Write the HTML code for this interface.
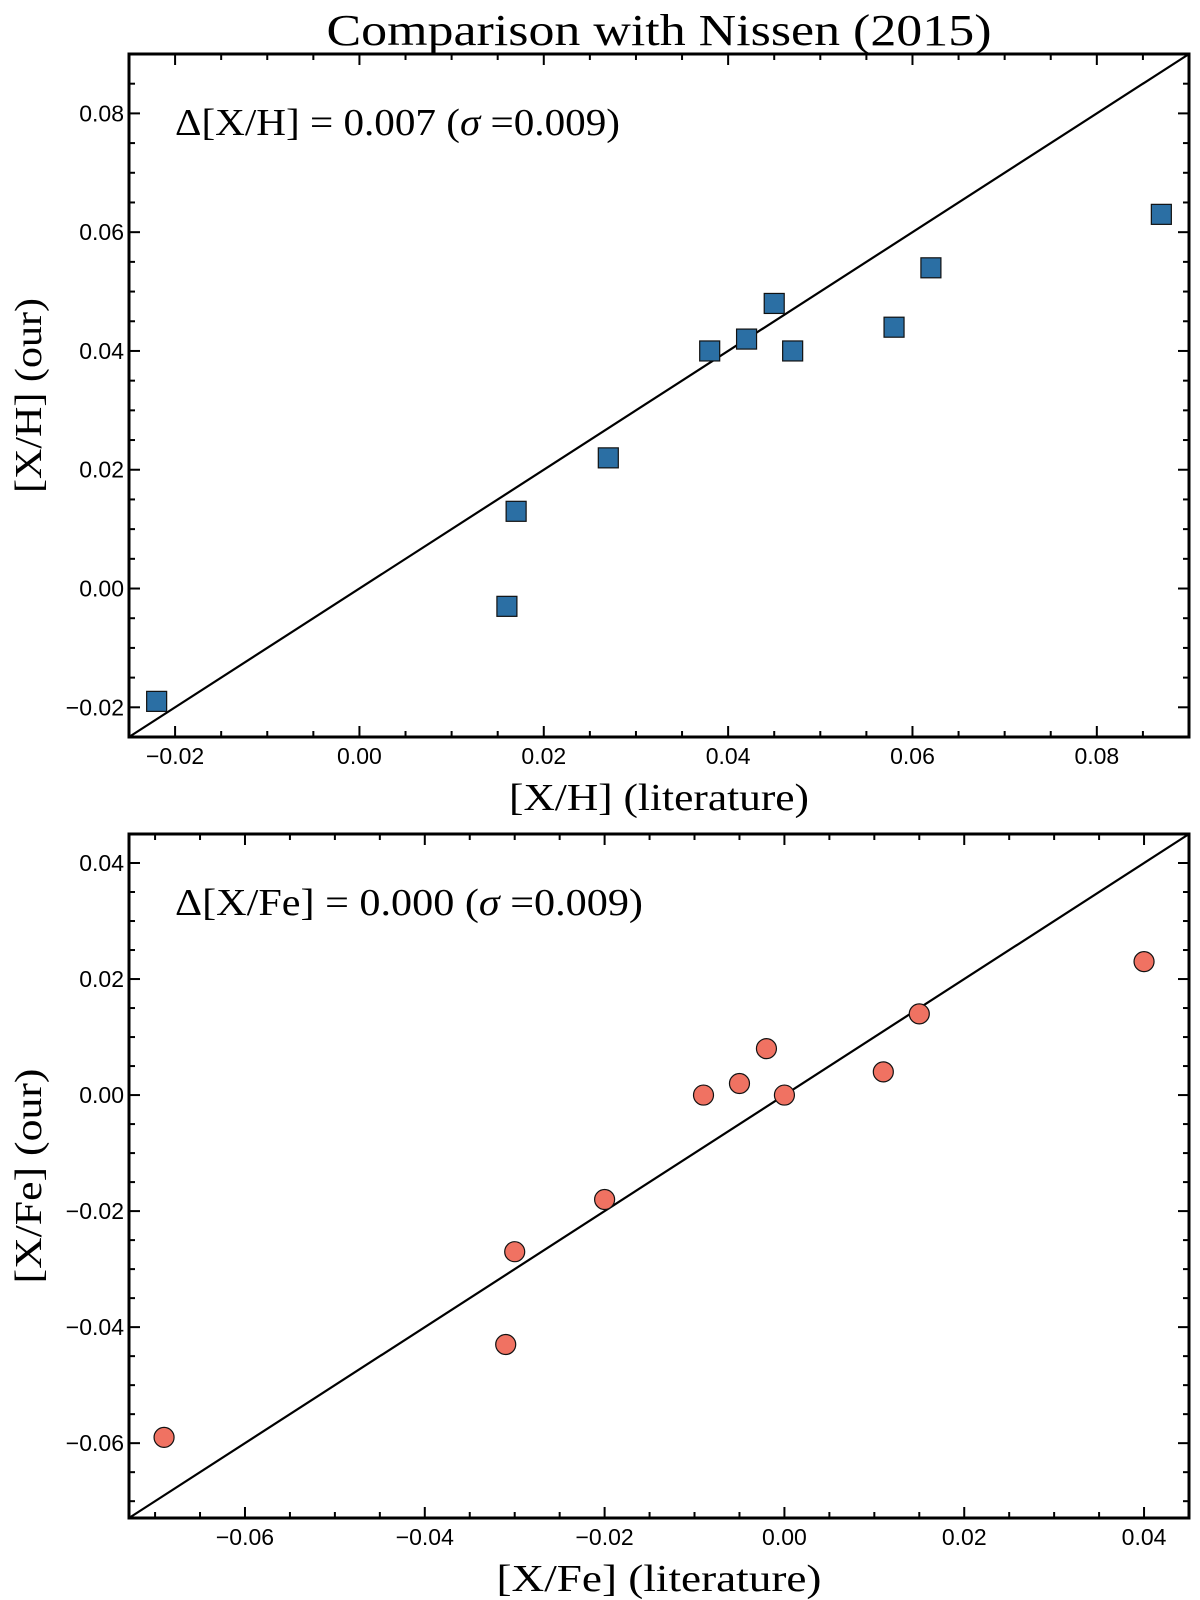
<!DOCTYPE html>
<html><head><meta charset="utf-8"><style>
html,body{margin:0;padding:0;background:#fff;}
svg{display:block;}
.tick{font-family:"Liberation Sans","DejaVu Sans",sans-serif;font-size:23px;fill:#000;}
.ser{font-family:"Liberation Serif","DejaVu Serif",serif;fill:#000;}
</style></head><body>
<svg id="fig" width="1200" height="1600" viewBox="0 0 1200 1600" xmlns="http://www.w3.org/2000/svg">
<rect width="1200" height="1600" fill="#fff"/>
<text class="ser" x="659" y="45" font-size="44" text-anchor="middle" textLength="665" lengthAdjust="spacingAndGlyphs">Comparison with Nissen (2015)</text>
</svg>
<script>
// Top panel data
const xhLit = [-0.022, 0.016, 0.017, 0.027, 0.038, 0.042, 0.045, 0.047, 0.058, 0.062, 0.087];
const xhOur = [-0.019, -0.003, 0.013, 0.022, 0.040, 0.042, 0.048, 0.040, 0.044, 0.054, 0.063];
const xhTicks = [-0.02, 0.00, 0.02, 0.04, 0.06, 0.08];
const xhTickLabels = ["\u22120.02", "0.00", "0.02", "0.04", "0.06", "0.08"];
// Bottom panel data
const xfeLit = [-0.069, -0.031, -0.030, -0.020, -0.009, -0.005, -0.002, 0.000, 0.011, 0.015, 0.040];
const xfeOur = [-0.059, -0.043, -0.027, -0.018, 0.000, 0.002, 0.008, 0.000, 0.004, 0.014, 0.023];
const xfeXTicks = [-0.06, -0.04, -0.02, 0.00, 0.02, 0.04];
const xfeXTickLabels = ["\u22120.06", "\u22120.04", "\u22120.02", "0.00", "0.02", "0.04"];
const xfeYTicks = [-0.06, -0.04, -0.02, 0.00, 0.02, 0.04];
const xfeYTickLabels = ["\u22120.06", "\u22120.04", "\u22120.02", "0.00", "0.02", "0.04"];

const NS = "http://www.w3.org/2000/svg";
const svg = document.getElementById('fig');
function mk(tag, attrs, parent) {
  const e = document.createElementNS(NS, tag);
  for (const k in attrs) e.setAttribute(k, attrs[k]);
  (parent || svg).appendChild(e);
  return e;
}

function panel(cfg) {
  const g = mk('g', {});
  
  
  const L = 129, R = 1189, T = cfg.top, B = cfg.bottom;
  const sx = v => L + (v - cfg.xmin) / (cfg.xmax - cfg.xmin) * (R - L);
  const sy = v => B - (v - cfg.ymin) / (cfg.ymax - cfg.ymin) * (B - T);
  const ln = mk('line', {x1: sx(cfg.xmin), y1: sy(cfg.xmin), x2: sx(cfg.xmax), y2: sy(cfg.xmax), stroke: '#000', 'stroke-width': 2.2}, g);
  
  
  for (let i = 0; i < cfg.xs.length; i++) {
    const cx = sx(cfg.xs[i]), cy = sy(cfg.ys[i]);
    let m;
    if (cfg.marker === 'square') {
      m = mk('rect', {x: cx - 10, y: cy - 10, width: 20, height: 20, fill: '#2b6fa4', stroke: '#111', 'stroke-width': 1.2}, g);
    } else {
      m = mk('circle', {cx: cx, cy: cy, r: 10, fill: '#f07262', stroke: '#111', 'stroke-width': 1.2}, g);
    }
    
    
  }
  const step = 0.005;
  for (let v = Math.ceil(cfg.xmin / step) * step; v <= cfg.xmax + 1e-9; v += step) {
    const x = sx(v);
    const major = Math.abs(Math.round(v / 0.02) * 0.02 - v) < 1e-9;
    const len = major ? 11 : 6;
    mk('line', {x1: x, y1: B, x2: x, y2: B - len, stroke: '#000', 'stroke-width': 2}, g);
    mk('line', {x1: x, y1: T, x2: x, y2: T + len, stroke: '#000', 'stroke-width': 2}, g);
  }
  for (let v = Math.ceil(cfg.ymin / step) * step; v <= cfg.ymax + 1e-9; v += step) {
    const y = sy(v);
    const major = Math.abs(Math.round(v / 0.02) * 0.02 - v) < 1e-9;
    const len = major ? 11 : 6;
    mk('line', {x1: L, y1: y, x2: L + len, y2: y, stroke: '#000', 'stroke-width': 2}, g);
    mk('line', {x1: R, y1: y, x2: R - len, y2: y, stroke: '#000', 'stroke-width': 2}, g);
  }
  const fr = mk('rect', {x: L, y: T, width: R - L, height: B - T, fill: 'none', stroke: '#000', 'stroke-width': 3}, g);
  
  
  cfg.xticks.forEach((v, i) => {
    const t = mk('text', {x: sx(v), y: B + 27, 'text-anchor': 'middle', class: 'tick'}, g);
    t.textContent = cfg.xlabels[i];
    
    
  });
  cfg.yticks.forEach((v, i) => {
    const t = mk('text', {x: L - 5, y: sy(v) + 8, 'text-anchor': 'end', class: 'tick'}, g);
    t.textContent = cfg.ylabels[i];
    
    
  });
  const xt = mk('text', {x: (L + R) / 2, y: B + 73, 'text-anchor': 'middle', class: 'ser', 'font-size': 38, textLength: cfg.xtitleLen, lengthAdjust: 'spacingAndGlyphs'}, g);
  xt.textContent = cfg.xtitle;
  
  
  const yc = (T + B) / 2;
  const yt = mk('text', {x: 0, y: 0, 'text-anchor': 'middle', class: 'ser', 'font-size': 38, transform: `translate(41 ${yc}) rotate(-90)`, textLength: cfg.ytitleLen, lengthAdjust: 'spacingAndGlyphs'}, g);
  yt.textContent = cfg.ytitle;
  
  
  const an = mk('text', {x: 175, y: T + 81, class: 'ser', 'font-size': 38, textLength: cfg.annLen, lengthAdjust: 'spacingAndGlyphs'}, g);
  an.innerHTML = cfg.ann;
  
  
}

panel({name: 'xh-panel', top: 54, bottom: 737, xmin: -0.025, xmax: 0.09, ymin: -0.025, ymax: 0.09,
  xs: xhLit, ys: xhOur, marker: 'square',
  xticks: xhTicks, xlabels: xhTickLabels, yticks: xhTicks, ylabels: xhTickLabels,
  xtitle: '[X/H] (literature)', xtitleLen: 300, ytitle: '[X/H] (our)', ytitleLen: 195,
  ann: '\u0394[X/H] = 0.007 (<tspan font-style="italic">\u03c3</tspan> =0.009)', annLen: 445});

panel({name: 'xfe-panel', top: 834, bottom: 1518, xmin: -0.0729, xmax: 0.045, ymin: -0.0729, ymax: 0.045,
  xs: xfeLit, ys: xfeOur, marker: 'circle',
  xticks: xfeXTicks, xlabels: xfeXTickLabels, yticks: xfeYTicks, ylabels: xfeYTickLabels,
  xtitle: '[X/Fe] (literature)', xtitleLen: 325, ytitle: '[X/Fe] (our)', ytitleLen: 215,
  ann: '\u0394[X/Fe] = 0.000 (<tspan font-style="italic">\u03c3</tspan> =0.009)', annLen: 468});
</script>
</body></html>
